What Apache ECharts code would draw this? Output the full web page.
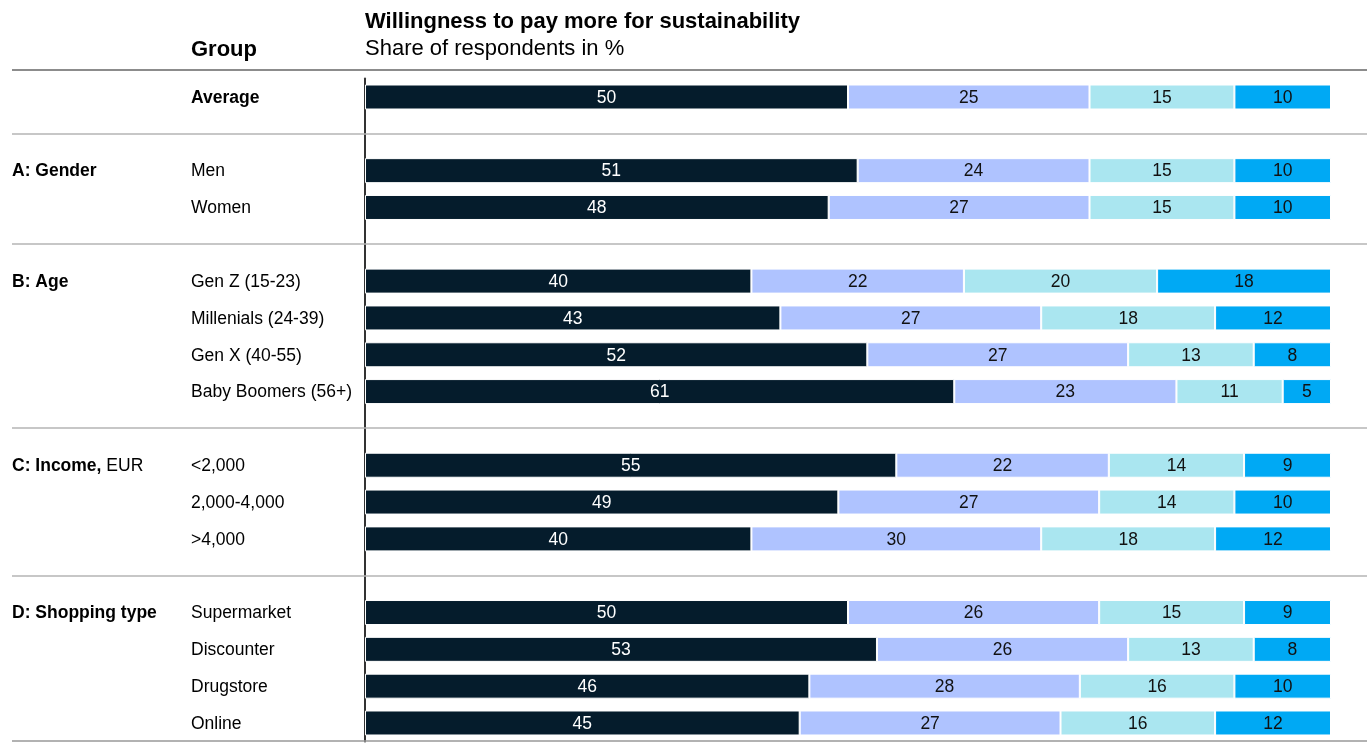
<!DOCTYPE html>
<html>
<head>
<meta charset="utf-8">
<script src="https://cdn.jsdelivr.net/npm/echarts@6/dist/echarts.min.js"></script>
<style>
html,body{margin:0;padding:0;background:#fff;}
#main{width:1367px;height:749px;}
</style>
</head>
<body>
<div id="main"></div>
<script>
const rows = ['Average', '', 'Men', 'Women', '', 'Gen Z (15-23)', 'Millenials (24-39)', 'Gen X (40-55)', 'Baby Boomers (56+)', '', '<2,000', '2,000-4,000', '>4,000', '', 'Supermarket', 'Discounter', 'Drugstore', 'Online'];
const groups = ['', '', 'A: Gender', '', '', 'B: Age', '', '', '', '', 'C: Income, EUR', '', '', '', 'D: Shopping type', '', '', ''];
const s1 = [50, null, 51, 48, null, 40, 43, 52, 61, null, 55, 49, 40, null, 50, 53, 46, 45];
const s2 = [25, null, 24, 27, null, 22, 27, 27, 23, null, 22, 27, 30, null, 26, 26, 28, 27];
const s3 = [15, null, 15, 15, null, 20, 18, 13, 11, null, 14, 14, 18, null, 15, 13, 16, 16];
const s4 = [10, null, 10, 10, null, 18, 12, 8, 5, null, 9, 10, 12, null, 9, 8, 10, 12];
const colors = ['#051C2C', '#AFC3FF', '#AAE6F0', '#00A9F4'];
const labelColors = ['#ffffff', '#111111', '#111111', '#111111'];

const FONT = 'Liberation Sans, Arial, sans-serif';
const FS = 17.5;
const chart = echarts.init(document.getElementById('main'), null, {renderer: 'canvas'});

function mk(data, i) {
  return {
    type: 'bar', stack: 'total', data: data, barWidth: 25,
    itemStyle: {color: colors[i], borderColor: '#ffffff', borderWidth: 1},
    label: {show: true, position: 'inside', color: labelColors[i], fontSize: FS, fontFamily: FONT, offset: [0, 1]},
    emphasis: {disabled: true},
    silent: true
  };
}

const option = {
  animation: false,
  textStyle: {fontFamily: FONT},
  title: [
    {text: 'Willingness to pay more for sustainability', subtext: 'Share of respondents in %', left: 360, top: 6,
     textStyle: {fontSize: 22, fontWeight: 'bold', color: '#000', fontFamily: FONT},
     subtextStyle: {fontSize: 22, color: '#000', fontFamily: FONT}, itemGap: 5},
    {text: 'Group', left: 186, top: 34, textStyle: {fontSize: 22, fontWeight: 'bold', color: '#000', fontFamily: FONT}}
  ],
  grid: {left: 365, right: 36, top: 78.6, bottom: 7.6, containLabel: false},
  xAxis: {type: 'value', min: 0, max: 100, show: false},
  yAxis: [
    {type: 'category', data: rows, inverse: true,
     axisLine: {show: true, lineStyle: {color: '#333', width: 2}},
     axisTick: {show: false}, splitLine: {show: false},
     axisLabel: {align: 'left', margin: 174, fontSize: FS, color: '#000', fontFamily: FONT, interval: 0,
       padding: [2, 0, 0, 0],
       formatter: v => v === 'Average' ? '{b|Average}' : v,
       rich: {b: {fontWeight: 'bold', fontSize: FS, color: '#000', fontFamily: FONT}}}},
    {type: 'category', data: groups, inverse: true, position: 'left',
     axisLine: {show: false}, axisTick: {show: false}, splitLine: {show: false},
     axisLabel: {align: 'left', margin: 353, fontSize: FS, color: '#000', fontFamily: FONT, interval: 0,
       padding: [2, 0, 0, 0],
       formatter: v => {
         if (!v) return '';
         const k = v.indexOf(',');
         if (k >= 0) return '{b|' + v.slice(0, k + 1) + '} {n|' + v.slice(k + 2) + '}';
         return '{b|' + v + '}';
       },
       rich: {b: {fontWeight: 'bold', fontSize: FS, color: '#000', fontFamily: FONT},
              n: {fontSize: FS, color: '#000', fontFamily: FONT}}}}
  ],
  series: [mk(s1, 0), mk(s2, 1), mk(s3, 2), mk(s4, 3)]
};
chart.setOption(option);

// Separator lines at the blank rows
const graphics = [{type: 'line', shape: {x1: 12, y1: 70, x2: 1367, y2: 70}, style: {stroke: '#8c8c8c', lineWidth: 2}, z: 10}];
rows.forEach((r, i) => {
  if (r === '') {
    const y = Math.round(chart.convertToPixel({yAxisIndex: 0}, i));
    graphics.push({type: 'line', shape: {x1: 12, y1: y, x2: 1367, y2: y}, style: {stroke: '#b4b4b4', lineWidth: 1.5}, z: 10});
  }
});
const yb = Math.round(chart.convertToPixel({yAxisIndex: 0}, rows.length - 1) + 18.4);
graphics.push({type: 'line', shape: {x1: 12, y1: yb, x2: 1367, y2: yb}, style: {stroke: '#999999', lineWidth: 1.5}, z: 10});
chart.setOption({graphic: graphics});
</script>
</body>
</html>
